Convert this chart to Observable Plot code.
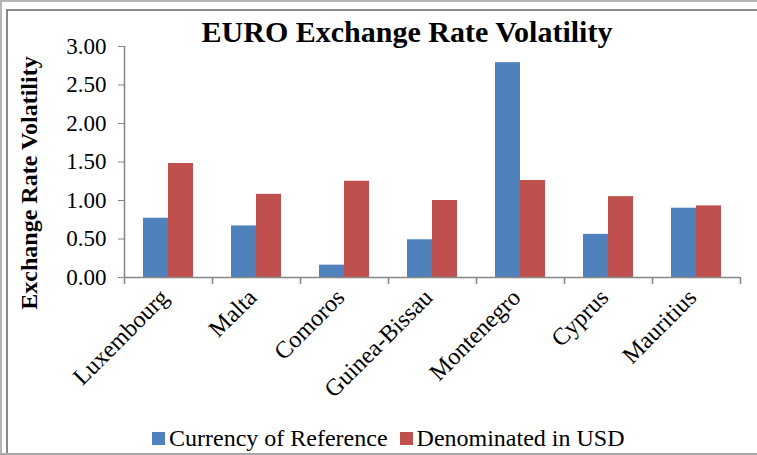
<!DOCTYPE html>
<html>
<head>
<meta charset="utf-8">
<script src="https://cdn.jsdelivr.net/npm/d3@7"></script>
<script src="https://cdn.jsdelivr.net/npm/@observablehq/plot@0.6"></script>
<style>
  html, body { margin: 0; padding: 0; background: #fff; }
  #wrap { position: relative; width: 757px; height: 455px; overflow: hidden; background: #fff;
          font-family: "Liberation Serif", "Times New Roman", serif; color: #000; }
  #outer { position: absolute; left: 0; top: 0; width: 800px; height: 460px;
           border-left: 2px solid #b4b4b4; border-top: 2px solid #b4b4b4; box-sizing: border-box; }
  #inner { position: absolute; left: 6px; top: 9px; width: 800px; height: 460px;
           border-left: 2px solid #8a8a8a; border-top: 2px solid #8a8a8a; box-sizing: border-box; }
  #bottom { position: absolute; left: 0; top: 453px; width: 757px; height: 2px; background: #a8a8a8; }
  #title { position: absolute; left: 0; width: 814px; top: 17px; text-align: center;
           font-size: 30px; line-height: 30px; font-weight: bold; white-space: nowrap; }
  #ylabel { position: absolute; left: 29px; top: 183px; transform: translate(-50%, -50%) rotate(-90deg);
            font-size: 24px; line-height: 24px; font-weight: bold; white-space: nowrap; }
  #chart { position: absolute; left: 0; top: 0; }
  #legend { position: absolute; top: 426px; left: 152px; display: flex; align-items: center;
            font-size: 24px; line-height: 24px; white-space: nowrap; }
  .sw { display: inline-block; width: 13px; height: 13px; margin-right: 4px; }
  .item { display: flex; align-items: center; margin-right: 12px; }
</style>
</head>
<body>
<div id="wrap">
  <div id="outer"></div>
  <div id="inner"></div>
  <div id="bottom"></div>
  <div id="chart"></div>
  <div id="title"></div>
  <div id="ylabel"></div>
  <div id="legend"></div>
</div>
<script>
const titleText = "EURO Exchange Rate Volatility";
const yLabel = "Exchange Rate Volatility";
const countries = ["Luxembourg", "Malta", "Comoros", "Guinea-Bissau", "Montenegro", "Cyprus", "Mauritius"];
const seriesNames = ["Currency of Reference", "Denominated in USD"];
const currencyOfReference = [0.77, 0.67, 0.16, 0.49, 2.79, 0.56, 0.90];
const denominatedInUSD = [1.48, 1.08, 1.25, 1.00, 1.26, 1.05, 0.93];
const yTicks = [0, 0.5, 1.0, 1.5, 2.0, 2.5, 3.0];
const colors = ["#4F81BD", "#C0504D"];

const rows = countries.map((c, i) => ({country: c, ref: currencyOfReference[i], usd: denominatedInUSD[i]}));

const W = 757, H = 420, ML = 124, MR = 17, MT = 46, MB = 143;
const band = (W - ML - MR) / countries.length;
const barW = 25;
const gap = (band - 2 * barW) / 2;
const axisColor = "#868686";

document.getElementById("title").textContent = titleText;
document.getElementById("ylabel").textContent = yLabel;
const leg = document.getElementById("legend");
seriesNames.forEach((s, i) => {
  const it = document.createElement("div");
  it.className = "item";
  const sw = document.createElement("span");
  sw.className = "sw";
  sw.style.background = colors[i];
  it.appendChild(sw);
  it.appendChild(document.createTextNode(s));
  leg.appendChild(it);
});

const chart = Plot.plot({
  width: W, height: H,
  marginLeft: ML, marginRight: MR, marginTop: MT, marginBottom: MB,
  style: {fontFamily: "'Liberation Serif', 'Times New Roman', serif", fontSize: "23px", color: "#000", background: "transparent", overflow: "visible"},
  x: {domain: countries, padding: 0, label: null},
  y: {domain: [0, 3], label: null},
  marks: [
    Plot.barY(rows, {x: "country", y: "ref", fill: colors[0], insetLeft: gap, insetRight: gap + barW}),
    Plot.barY(rows, {x: "country", y: "usd", fill: colors[1], insetLeft: gap + barW, insetRight: gap}),
    Plot.ruleY([0], {stroke: axisColor, strokeWidth: 1.5}),
    Plot.ruleX([countries[0]], {x: d => d, dx: -band / 2, y1: 0, y2: 3, stroke: axisColor, strokeWidth: 1.5}),
    Plot.ruleX(countries, {x: d => d, dx: -band / 2, y1: 0, y2: -0.09, stroke: axisColor, strokeWidth: 1.5}),
    Plot.ruleX([countries[countries.length - 1]], {x: d => d, dx: band / 2, y1: 0, y2: -0.09, stroke: axisColor, strokeWidth: 1.5}),
    Plot.axisY({ticks: yTicks, tickFormat: d => d.toFixed(2), tickSize: 6, tickPadding: 12, stroke: axisColor, label: null}),
    Plot.axisX({tickSize: 0, tickRotate: -45, tickPadding: 16, dx: -4, label: null, fontSize: 24})
  ]
});
document.getElementById("chart").appendChild(chart);
</script>
</body>
</html>
